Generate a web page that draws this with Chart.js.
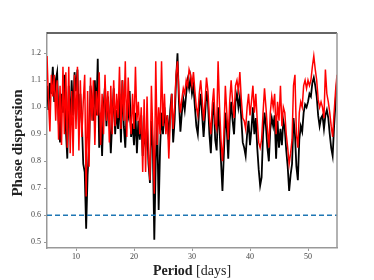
<!DOCTYPE html>
<html>
<head>
<meta charset="utf-8">
<script src="https://cdn.jsdelivr.net/npm/chart.js@4.4.1/dist/chart.umd.min.js"></script>
<style>
html,body{margin:0;padding:0;background:#fff;}
#wrap{width:374px;height:280px;position:relative;}
</style>
</head>
<body>
<div id="wrap"><canvas id="c" width="374" height="280"></canvas></div>
<script>
// Period grid (days): 5 to 55 in 0.25-day steps
const periodStart = 5, periodStep = 0.25;
const blackDispersion = [
1.08,0.99,1.09,1.05, 1.15,1.02,1.10,1.13, 0.95,0.87,1.05,0.98, 1.12,0.92,0.81,1.08,
0.93,1.10,0.97,1.13, 1.06,1.14,0.92,1.05, 0.95,0.79,0.76,0.55, 0.75,0.85,1.08,1.03,
0.95,1.10,0.97,1.18, 0.85,0.98,0.82,1.00, 1.08,0.93,1.04,0.96, 0.83,0.95,1.07,0.90,
0.99,0.92,1.05,0.87, 1.10,0.93,0.85,1.00, 0.97,1.06,0.89,0.94, 0.86,0.98,0.83,0.95,
0.88,0.97,0.82,0.90, 0.86,0.93,0.79,0.72, 0.95,0.85,0.51,0.80, 0.95,0.62,0.85,0.98,
0.90,1.00,0.92,0.97, 0.88,0.99,1.05,0.87, 0.95,1.10,1.20,1.02, 0.91,0.98,1.03,0.99,
1.05,1.10,1.07,1.11, 1.05,1.08,1.00,0.93, 0.90,1.00,1.05,0.97, 0.89,0.97,1.06,1.02,
0.90,0.83,0.97,1.02, 0.88,0.84,1.00,0.92, 0.80,0.69,0.83,0.98, 0.92,0.81,0.95,1.02,
0.95,0.90,1.02,1.05, 1.00,1.04,0.96,0.87, 0.85,0.82,0.90,0.95, 0.86,0.92,1.00,0.90,
0.96,0.85,0.77,0.71, 0.74,0.90,0.98,0.93, 0.85,0.80,0.92,0.96, 0.93,0.97,0.81,0.95,
0.85,0.92,0.86,0.95, 0.92,0.84,0.78,0.69, 0.75,0.79,0.96,0.90, 0.78,0.73,0.88,0.93,
0.91,0.98,1.01,1.00, 1.02,1.05,1.04,1.09, 1.11,1.08,1.04,0.97, 0.93,0.96,0.97,0.92,
0.97,0.99,0.96,0.90, 0.85,0.82,0.93,1.02, 1.10
];
const redDispersion = [
1.19,1.03,0.91,1.12, 1.04,1.12,0.95,1.10, 0.88,1.08,0.86,1.15, 0.90,1.13,0.85,1.15,
0.83,1.06,0.82,1.12, 0.92,1.15,0.84,1.10, 0.89,1.02,1.12,0.67, 1.06,0.78,1.11,0.95,
1.10,0.86,1.06,0.97, 1.13,0.86,1.05,0.90, 1.12,0.95,1.06,0.87, 1.08,0.90,1.10,0.93,
1.05,0.96,1.15,0.92, 1.10,0.95,1.17,0.89, 1.11,0.97,0.90,1.05, 0.92,1.15,0.95,1.02,
0.90,1.00,0.76,1.03, 0.76,1.04,0.82,0.73, 1.08,0.90,0.68,1.17, 0.86,1.00,0.90,1.17,
0.93,1.05,0.90,0.97, 0.81,0.95,1.05,0.92, 1.00,1.12,1.17,1.05, 0.98,1.03,1.07,1.05,
1.10,1.08,1.14,1.12, 1.08,1.13,1.06,1.00, 0.97,1.05,1.10,1.03, 0.95,1.02,1.11,1.06,
0.96,0.90,1.01,1.07, 0.94,0.92,1.17,1.00, 0.88,0.80,0.90,1.08, 0.98,0.88,1.02,1.10,
1.02,0.96,1.08,1.10, 1.06,1.13,1.03,0.96, 0.95,0.92,1.00,1.05, 0.97,1.02,1.08,0.98,
1.05,0.95,0.87,0.85, 0.88,0.98,1.07,1.00, 0.92,0.85,0.98,1.04, 1.00,1.05,0.90,1.02,
0.95,1.08,0.93,1.00, 0.98,0.90,0.85,0.79, 0.83,0.88,1.08,1.12, 0.90,0.85,0.98,1.02,
1.00,1.08,1.10,1.07, 1.10,1.08,1.10,1.15, 1.19,1.14,1.10,1.03, 1.00,1.02,1.00,0.96,
1.14,1.05,1.02,0.98, 0.93,0.89,0.98,1.06, 1.12
];
const thresholdLevel = [0.6];
const xTicks = [10, 20, 30, 40, 50];
const yTicks = [0.5, 0.6, 0.7, 0.8, 0.9, 1.0, 1.1, 1.2];
const xRange = [5, 55];
const yRange = [0.479, 1.275];

const toPoints = arr => arr.map((v, i) => ({x: periodStart + i * periodStep, y: v}));

const tickFont = {family: '"Liberation Serif", serif', size: 8};

const decor = {
  id: 'decor',
  afterDatasetsDraw(chart) {
    const {ctx, chartArea: a} = chart;
    ctx.save();
    ctx.lineWidth = 1.5;
    ctx.strokeStyle = '#333';
    ctx.beginPath(); ctx.moveTo(a.left, a.top); ctx.lineTo(a.right, a.top); ctx.stroke();
    ctx.strokeStyle = '#999';
    ctx.beginPath(); ctx.moveTo(a.right, a.top); ctx.lineTo(a.right, a.bottom); ctx.stroke();
    ctx.restore();
  },
  afterDraw(chart) {
    const {ctx, chartArea: a} = chart;
    ctx.save();
    ctx.fillStyle = '#222';
    ctx.textBaseline = 'alphabetic';
    const f1 = 'bold 14px "Liberation Serif", serif';
    const f2 = '14px "Liberation Serif", serif';
    ctx.font = f1; const w1 = ctx.measureText('Period').width;
    ctx.font = f2; const w2 = ctx.measureText(' [days]').width;
    const cx = (a.left + a.right) / 2;
    let x0 = cx - (w1 + w2) / 2;
    ctx.textAlign = 'left';
    ctx.font = f1; ctx.fillText('Period', x0, 275);
    ctx.font = f2; ctx.fillText(' [days]', x0 + w1, 275);
    ctx.translate(18.5, 143);
    ctx.rotate(-Math.PI / 2);
    ctx.textAlign = 'center';
    ctx.textBaseline = 'middle';
    ctx.font = 'bold 15px "Liberation Serif", serif';
    ctx.fillText('Phase dispersion', 0, 0);
    ctx.restore();
  }
};

new Chart(document.getElementById('c'), {
  type: 'line',
  data: {
    datasets: [
      {label: 'threshold', data: [{x: xRange[0], y: thresholdLevel[0]}, {x: xRange[1], y: thresholdLevel[0]}],
       borderColor: '#1f77b4', borderWidth: 1.5, borderDash: [5, 3], pointRadius: 0, order: 0},
      {label: 'red', data: toPoints(redDispersion), borderColor: '#ff0000', borderWidth: 1.5,
       pointRadius: 0, tension: 0, order: 1},
      {label: 'black', data: toPoints(blackDispersion), borderColor: '#000000', borderWidth: 1.8,
       pointRadius: 0, tension: 0, order: 2}
    ]
  },
  options: {
    responsive: false,
    animation: false,
    events: [],
    layout: {padding: {top: 33, right: 37, left: 0, bottom: 0}},
    plugins: {legend: {display: false}, tooltip: {enabled: false}},
    scales: {
      x: {
        type: 'linear', min: xRange[0], max: xRange[1],
        afterBuildTicks: s => { s.ticks = xTicks.map(v => ({value: v})); },
        afterFit: s => { s.height = 32; },
        ticks: {font: tickFont, color: '#444', padding: 1, maxRotation: 0, callback: v => String(v)},
        grid: {display: true, drawOnChartArea: false, drawTicks: true, tickLength: 3, tickColor: '#999', tickWidth: 1},
        border: {display: true, color: '#999', width: 1.5}
      },
      y: {
        type: 'linear', min: yRange[0], max: yRange[1],
        afterBuildTicks: s => { s.ticks = yTicks.map(v => ({value: v})); },
        afterFit: s => { s.width = 47; },
        ticks: {font: tickFont, color: '#444', padding: 3, callback: v => Number(v).toFixed(1)},
        grid: {display: true, drawOnChartArea: false, drawTicks: true, tickLength: 3, tickColor: '#999', tickWidth: 1},
        border: {display: true, color: '#999', width: 1.5}
      }
    }
  },
  plugins: [decor]
});
</script>
</body>
</html>
